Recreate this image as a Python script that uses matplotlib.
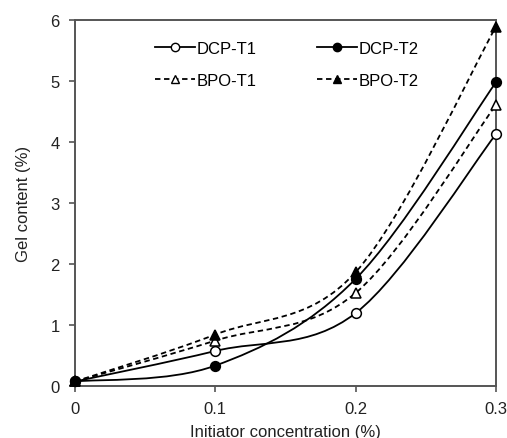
import numpy as np
import matplotlib.pyplot as plt
from matplotlib.path import Path
from matplotlib.patches import PathPatch
from matplotlib.lines import Line2D

plt.rcParams['font.family'] = ['Liberation Sans', 'DejaVu Sans']

conc = [0.0, 0.1, 0.2, 0.3]
dcp_t1 = [0.07, 0.57, 1.19, 4.12]
dcp_t2 = [0.07, 0.33, 1.75, 4.97]
bpo_t1 = [0.07, 0.74, 1.52, 4.60]
bpo_t2 = [0.07, 0.84, 1.86, 5.88]

xticks = [0, 0.1, 0.2, 0.3]
xticklabels = ["0", "0.1", "0.2", "0.3"]


def smooth_path(x, y):
    # spreadsheet-style smoothed line (Catmull-Rom -> cubic Bezier)
    pts = np.column_stack([x, y])
    n = len(pts)
    verts = [pts[0]]
    codes = [Path.MOVETO]
    for i in range(n - 1):
        p0 = pts[max(i - 1, 0)]
        p1 = pts[i]
        p2 = pts[i + 1]
        p3 = pts[min(i + 2, n - 1)]
        c1 = p1 + (p2 - p0) / 6
        c2 = p2 - (p3 - p1) / 6
        verts += [c1, c2, p2]
        codes += [Path.CURVE4] * 3
    return Path(verts, codes)


fig = plt.figure(figsize=(5.07, 4.39), dpi=100)
ax = fig.add_axes([0.148, 0.119, 0.83, 0.834])

series = [
    ("DCP-T1", dcp_t1, "-", "o", "white"),
    ("DCP-T2", dcp_t2, "-", "o", "black"),
    ("BPO-T1", bpo_t1, (0, (3, 2)), "^", "white"),
    ("BPO-T2", bpo_t2, (0, (3, 2)), "^", "black"),
]

handles = {}
for name, vals, ls, mk, fc in series:
    patch = PathPatch(smooth_path(conc, vals), fill=False, lw=1.3,
                      ls=ls, ec="black", zorder=2, clip_on=False)
    ax.add_patch(patch)
    ax.plot(conc, vals, ls="none", marker=mk, ms=7, mfc=fc, mec="black",
            mew=1.1, zorder=3, clip_on=False)
    handles[name] = Line2D([], [], color="black", lw=1.3, ls=ls, marker=mk,
                           ms=6, mfc=fc, mec="black", mew=1.0)

ax.set_xlim(0, 0.3)
ax.set_ylim(0, 6)
ax.set_xticks(xticks)
ax.set_xticklabels(xticklabels)
ax.set_yticks(range(0, 7))
ax.tick_params(direction="out", length=4, width=1.2, color="#555555",
               labelsize=12, labelcolor="#222222", pad=7)
for sp in ax.spines.values():
    sp.set_color("#555555")
    sp.set_linewidth(1.4)

ax.set_xlabel("Initiator concentration (%)", fontsize=12, color="#222222", labelpad=6)
ax.set_ylabel("Gel content (%)", fontsize=12, color="#222222", labelpad=14)

order = ["DCP-T1", "BPO-T1", "DCP-T2", "BPO-T2"]
ax.legend([handles[k] for k in order], order, ncol=2, loc="upper left",
          bbox_to_anchor=(0.277, 0.938), bbox_transform=fig.transFigure,
          frameon=False, fontsize=12, handlelength=2.4, handletextpad=0.1,
          columnspacing=3.6, labelspacing=1.0)

fig.savefig("out.png", dpi=100)
